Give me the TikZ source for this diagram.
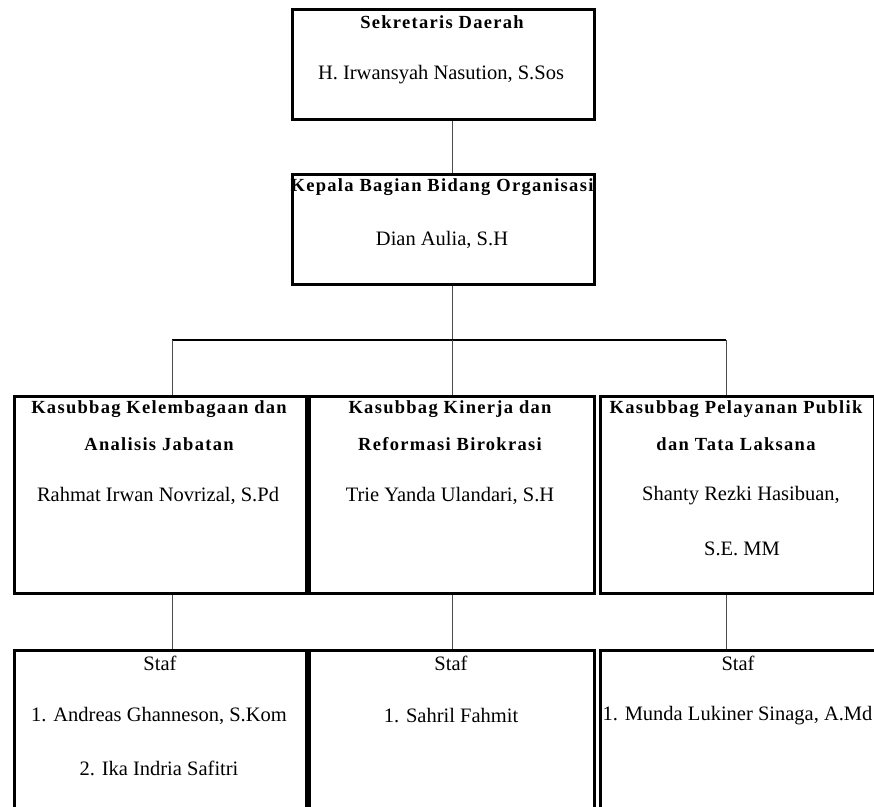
\documentclass[tikz,border=0pt]{standalone}
\usepackage{fontspec}
\setmainfont{Liberation Serif}
\newfontfamily\titlefont[LetterSpace=7]{Liberation Serif}
\begin{document}
\begin{tikzpicture}[x=1pt,y=-1pt,
  box/.style={draw=black,line width=3pt,inner sep=0pt,anchor=north west},
  conn/.style={draw=black!70,line width=1pt},
  ttl/.style={font=\titlefont\bfseries\fontsize{18.5}{21}\selectfont,inner sep=0pt},
  txt/.style={font=\fontsize{20.5}{23}\selectfont,inner sep=0pt}]
\useasboundingbox (0,0) rectangle (874,806);
\clip (0,0) rectangle (874,806);
\fill[white] (0,0) rectangle (874,806);
% boxes
\node[box,minimum width=302pt,minimum height=110pt] (sek) at (291,8) {};
\node[box,minimum width=302pt,minimum height=110pt] (kab) at (291,173) {};
\node[box,minimum width=292pt,minimum height=197pt] (k1) at (13,395) {};
\node[box,minimum width=285pt,minimum height=197pt] (k2) at (308,395) {};
\node[box,minimum width=274pt,minimum height=197pt] (k3) at (599,395) {};
\node[box,minimum width=292pt,minimum height=200pt] (s1) at (13,649) {};
\node[box,minimum width=285pt,minimum height=200pt] (s2) at (308,649) {};
\node[box,minimum width=275pt,minimum height=200pt] (s3) at (599,649) {};
% texts
\node[ttl] (t1) at (442,22) {Sekretaris Daerah};
\node[txt] (t2) at (441,75) {H. Irwansyah Nasution, S.Sos};
\node[ttl] (t3) at (442,187) {Kepala Bagian Bidang Organisasi};
\node[txt] (t4) at (442,240) {Dian Aulia, S.H};
\node[ttl] (t5) at (159,409) {Kasubbag Kelembagaan dan};
\node[ttl] (t6) at (159,444) {Analisis Jabatan};
\node[txt] (t7) at (158,496) {Rahmat Irwan Novrizal, S.Pd};
\node[ttl] (t8) at (450,409) {Kasubbag Kinerja dan};
\node[ttl] (t9) at (450,444) {Reformasi Birokrasi};
\node[txt] (t10) at (450,496) {Trie Yanda Ulandari, S.H};
\node[ttl] (t11) at (736,409) {Kasubbag Pelayanan Publik};
\node[ttl] (t12) at (736,444) {dan Tata Laksana};
\node[txt] (t13) at (741,496) {Shanty Rezki Hasibuan,};
\node[txt] (t14) at (742,549) {S.E. MM};
\node[txt] (t15) at (160,663) {Staf};
\node[txt] (t16) at (159,716) {1. Andreas Ghanneson, S.Kom};
\node[txt] (t17) at (159,768) {2. Ika Indria Safitri};
\node[txt] (t18) at (451,663) {Staf};
\node[txt] (t19) at (451,716) {1. Sahril Fahmit};
\node[txt] (t20) at (738,663) {Staf};
\node[txt] (t21) at (737.5,716) {1. Munda Lukiner Sinaga, A.Md};
% connectors
\coordinate (hl) at (172,340);
\coordinate (hm) at (452,340);
\coordinate (hr) at (726,340);
\draw[conn] (sek.south -| hm) -- (kab.north -| hm);
\draw[conn] (kab.south -| hm) -- (hm);
\draw[line width=2pt] (hl) -- (hr);
\draw[conn] (hl) -- (k1.north -| hl);
\draw[conn] (hm) -- (k2.north -| hm);
\draw[conn] (hr) -- (k3.north -| hr);
\draw[conn] (k1.south -| hl) -- (s1.north -| hl);
\draw[conn] (k2.south -| hm) -- (s2.north -| hm);
\draw[conn] (k3.south -| hr) -- (s3.north -| hr);
\end{tikzpicture}
\end{document}
